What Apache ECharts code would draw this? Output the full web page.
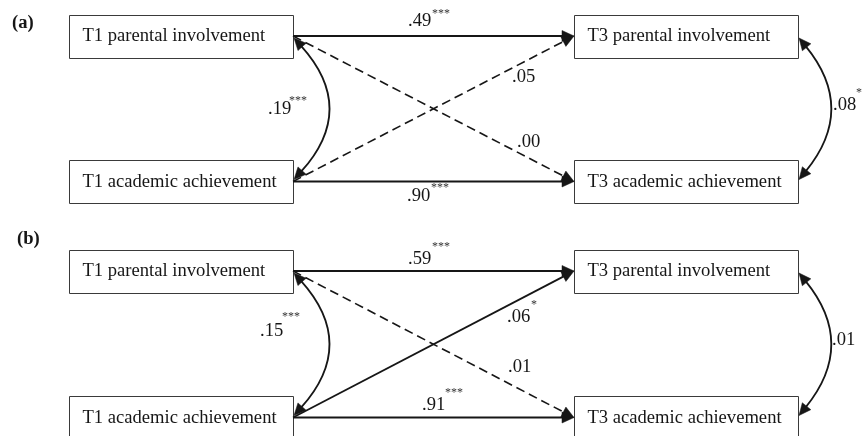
<!DOCTYPE html>
<html><head><meta charset="utf-8">
<script src="https://cdn.jsdelivr.net/npm/echarts@6/dist/echarts.min.js"></script>
<style>html,body{margin:0;padding:0;background:#fff}#c{width:866px;height:436px}</style>
</head><body><div id="c"></div>
<script>
// ---------- data ----------
const panelLabels = ['(a)', '(b)'];
const varNames = ['T1 parental involvement', 'T1 academic achievement', 'T3 parental involvement', 'T3 academic achievement'];
const pathFrom = [0, 1, 0, 1, 0, 2];
const pathTo   = [2, 3, 3, 2, 1, 3];
const pathKind = ['direct', 'direct', 'cross', 'cross', 'cov', 'cov'];
const coefA  = ['.49', '.90', '.00', '.05', '.19', '.08'];
const starsA = ['***', '***', '', '', '***', '*'];
const dashedA = [false, false, true, true, false, false];
const coefB  = ['.59', '.91', '.01', '.06', '.15', '.01'];
const starsB = ['***', '***', '', '*', '***', ''];
const dashedB = [false, false, true, false, false, false];

// ---------- layout ----------
const W = 866, H = 436;
const boxLeft = [69, 69, 574, 574], boxW = 224, boxH = 43, textPad = 13.5;
const nodeRow = [0, 1, 0, 1];
const rowTop = [[14.5, 160], [249.5, 396]];
const panelLabelPos = [[12, 23], [17, 239.5]];
const coefPos = [
  [[408, 21.5], [407, 196], [517, 142], [512, 77.5], [268, 109], [833, 105]],
  [[408, 259], [422, 405], [508, 367], [507, 317.5], [260, 331], [832, 340]]
];
const starPos = [
  [[432, 14], [431, 188], null, null, [289, 101], [856, 93]],
  [[432, 247], [445, 393], null, [531, 305], [282, 317], null]
];
const covBulge = [32, 29];
const INK = '#161616';
const FONT = '"Liberation Serif", "Times New Roman", serif';
const FS = 18.6, SFS = 12;
const AL = 12, AHW = 5.5;

const coefs = [coefA, coefB], stars = [starsA, starsB], dashed = [dashedA, dashedB];

function cy(p, n) { return rowTop[p][nodeRow[n]] + boxH / 2; }

function arrowHead(tip, from) {
  const dx = tip[0] - from[0], dy = tip[1] - from[1];
  const len = Math.hypot(dx, dy);
  const ux = dx / len, uy = dy / len;
  const bx = tip[0] - ux * AL, by = tip[1] - uy * AL;
  return {
    base: [bx + ux * 1.5, by + uy * 1.5],
    el: { type: 'polygon', shape: { points: [tip, [bx - uy * AHW, by + ux * AHW], [bx + uy * AHW, by - ux * AHW]] },
      style: { fill: INK, stroke: INK, lineWidth: 0.5 } }
  };
}

const boxData = [], pathData = [], labelData = [];
for (let p = 0; p < 2; p++) {
  for (let n = 0; n < 4; n++) boxData.push([p, n]);
  for (let k = 0; k < pathFrom.length; k++) { pathData.push([p, k]); labelData.push([p, k]); }
}

const chart = echarts.init(document.getElementById('c'), null, { renderer: 'canvas' });
chart.setOption({
  animation: false,
  backgroundColor: '#ffffff',
  grid: { left: 0, right: 0, top: 0, bottom: 0 },
  xAxis: { type: 'value', min: 0, max: W, show: false },
  yAxis: { type: 'value', min: 0, max: H, inverse: true, show: false },
  series: [
    {
      type: 'custom', name: 'boxes', data: boxData, clip: false, silent: true,
      renderItem(params, api) {
        const p = api.value(0), n = api.value(1);
        const top = rowTop[p][nodeRow[n]];
        const a = api.coord([boxLeft[n], top]);
        const b = api.coord([boxLeft[n] + boxW, top + boxH]);
        const t = api.coord([boxLeft[n] + textPad, top + boxH / 2 + 0.5]);
        const x0 = Math.round(a[0]) + 0.5, y0 = Math.round(a[1]) + 0.5;
        const x1 = Math.round(b[0]) + 0.5, y1 = Math.round(b[1]) + 0.5;
        const children = [
          { type: 'rect', shape: { x: x0, y: y0, width: x1 - x0, height: y1 - y0 },
            style: { fill: '#fff', stroke: '#3a3a3a', lineWidth: 1 } },
          { type: 'text', style: { text: varNames[n], x: t[0], y: t[1], fill: INK,
            font: FS + 'px ' + FONT, align: 'left', verticalAlign: 'middle' } }
        ];
        if (n === 0) {
          const lp = api.coord(panelLabelPos[p]);
          children.push({ type: 'text', style: { text: panelLabels[p], x: lp[0], y: lp[1], fill: INK,
            font: 'bold ' + FS + 'px ' + FONT, align: 'left', verticalAlign: 'middle' } });
        }
        return { type: 'group', children };
      }
    },
    {
      type: 'custom', name: 'paths', data: pathData, clip: false, silent: true, z: 3,
      renderItem(params, api) {
        const p = api.value(0), k = api.value(1);
        const f = pathFrom[k], t = pathTo[k];
        const dash = dashed[p][k];
        const lineStyle = { stroke: INK, lineWidth: dash ? 1.6 : 1.8, fill: null, lineDash: dash ? [9, 5] : null };
        const children = [];
        if (pathKind[k] === 'cov') {
          const side = f >= 2 ? 1 : 0;
          const xr = boxLeft[f] + boxW + 1;
          const A = api.coord([xr, cy(p, f) + 2]);
          const B = api.coord([xr, cy(p, t) - 2]);
          const Cd = api.coord([xr + 2 * covBulge[side], (cy(p, f) + cy(p, t)) / 2]);
          const ha = arrowHead(A, Cd), hb = arrowHead(B, Cd);
          children.push({ type: 'bezierCurve', shape: { x1: ha.base[0], y1: ha.base[1], x2: hb.base[0], y2: hb.base[1], cpx1: Cd[0], cpy1: Cd[1] },
            style: lineStyle });
          children.push(ha.el, hb.el);
        } else {
          const S = api.coord([boxLeft[f] + boxW, cy(p, f)]);
          const E = api.coord([boxLeft[t], cy(p, t)]);
          const h = arrowHead(E, S);
          children.push({ type: 'line', shape: { x1: S[0], y1: S[1], x2: h.base[0], y2: h.base[1] }, style: lineStyle });
          children.push(h.el);
        }
        return { type: 'group', children };
      }
    },
    {
      type: 'custom', name: 'coefficients', data: labelData, clip: false, silent: true, z: 4,
      renderItem(params, api) {
        const p = api.value(0), k = api.value(1);
        const c = api.coord(coefPos[p][k]);
        const children = [{ type: 'text', style: { text: coefs[p][k], x: c[0], y: c[1], fill: INK,
          font: FS + 'px ' + FONT, align: 'left', verticalAlign: 'middle' } }];
        if (stars[p][k] && starPos[p][k]) {
          const s = api.coord(starPos[p][k]);
          children.push({ type: 'text', style: { text: stars[p][k], x: s[0], y: s[1], fill: '#333',
            font: SFS + 'px ' + FONT, align: 'left', verticalAlign: 'middle' } });
        }
        return { type: 'group', children };
      }
    }
  ]
});
</script></body></html>
